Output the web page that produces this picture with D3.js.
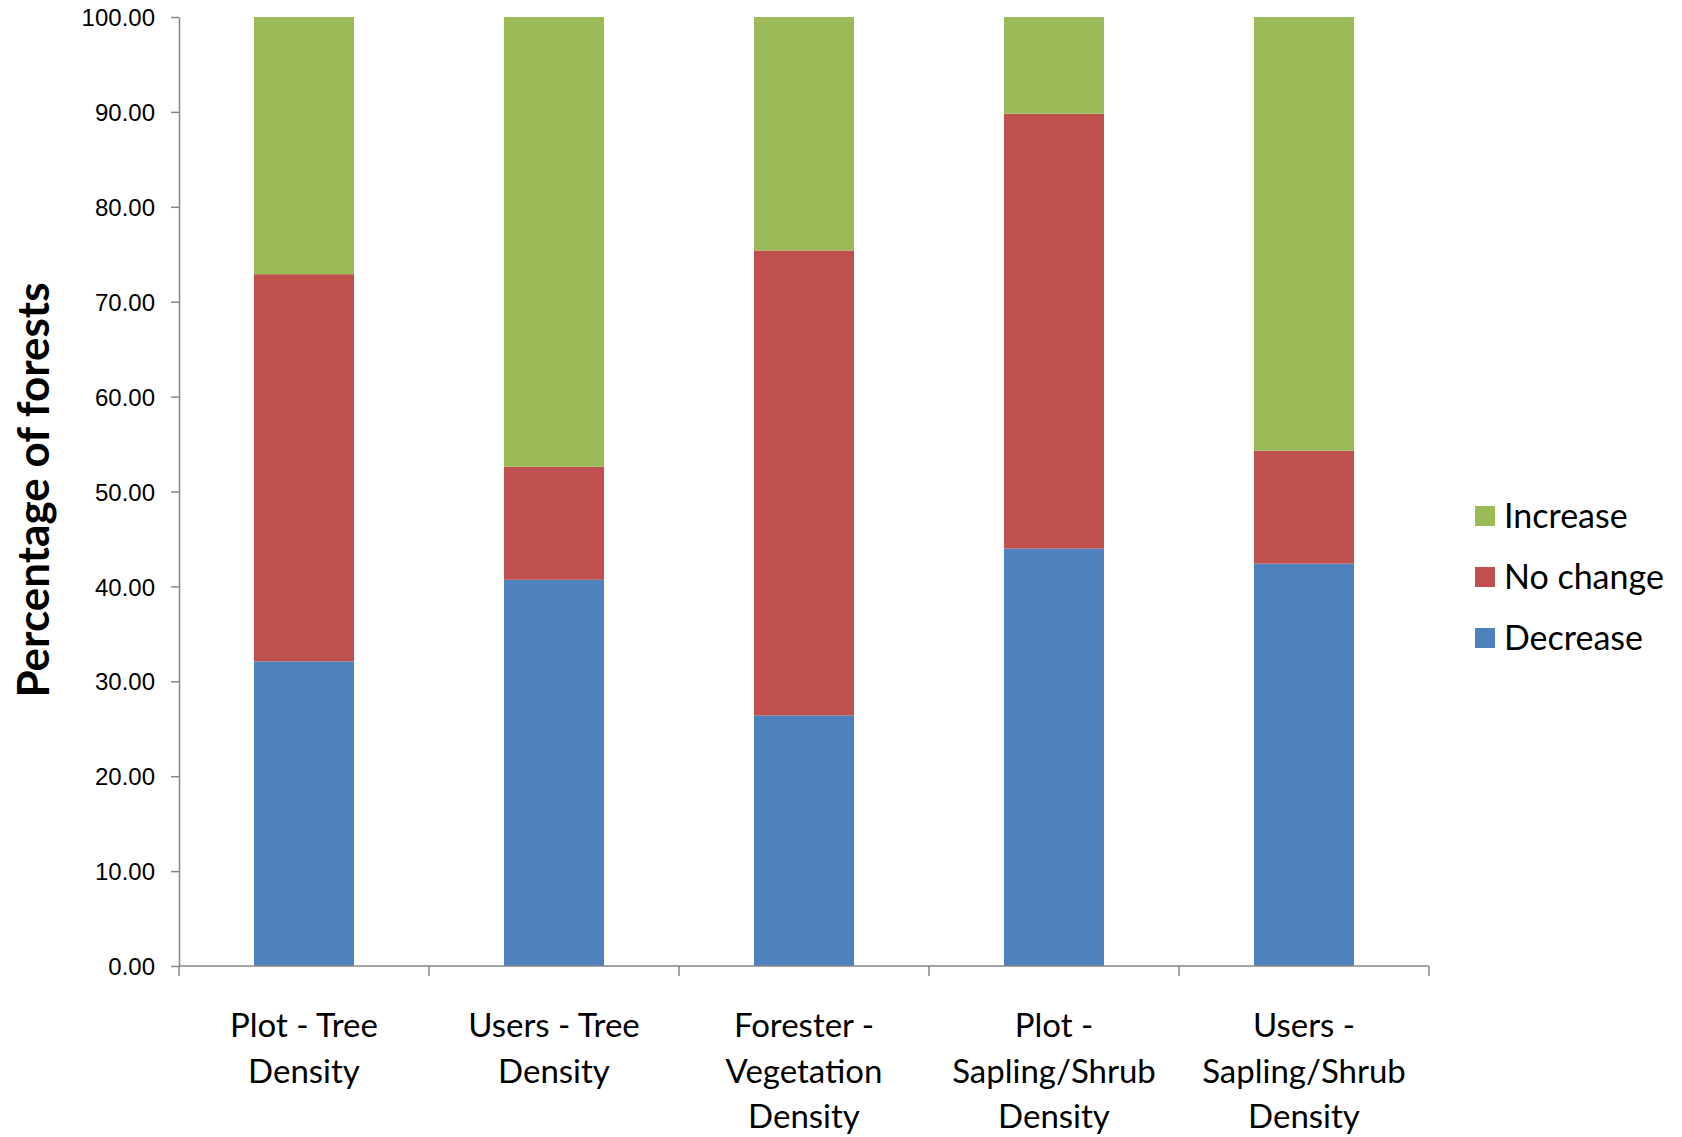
<!DOCTYPE html>
<html lang="en">
<head>
<meta charset="utf-8">
<title>Percentage of forests</title>
<script src="https://cdn.jsdelivr.net/npm/d3@7"></script>
<style>
  html, body { margin: 0; padding: 0; background: #fff; }
  svg { display: block; font-family: Lato, "Open Sans", sans-serif; }
</style>
</head>
<body>
<svg id="chart" width="1682" height="1137"></svg>
<script>
// data
var categories = [
  ["Plot - Tree", "Density"],
  ["Users - Tree", "Density"],
  ["Forester -", "Vegetation", "Density"],
  ["Plot -", "Sapling/Shrub", "Density"],
  ["Users -", "Sapling/Shrub", "Density"]
];
var decrease = [32.1, 40.7, 26.4, 44.0, 42.4];
var noChange = [40.8, 11.9, 49.0, 45.8, 11.9];
var increase = [27.1, 47.4, 24.6, 10.2, 45.7];
var seriesNames = ["Decrease", "No change", "Increase"];
var seriesColors = ["#4F81BD", "#C0504D", "#9BBB59"];
var yTicks = [0, 10, 20, 30, 40, 50, 60, 70, 80, 90, 100];

(function() {
  var svg = d3.select("#chart");
  var mLeft = 179, mRight = 1429, mTop = 17, mBottom = 966;

  var x = d3.scaleBand().domain(d3.range(categories.length)).range([mLeft, mRight]).paddingInner(0.6).paddingOuter(0.3);
  var y = d3.scaleLinear().domain([0, 100]).range([mBottom, mTop]);

  // stack the three series
  var rows = categories.map(function(c, i) {
    return { i: i, "Decrease": decrease[i], "No change": noChange[i], "Increase": increase[i] };
  });
  var stacked = d3.stack().keys(seriesNames)(rows);

  svg.append("g").selectAll("g")
    .data(stacked)
    .enter().append("g")
      .attr("fill", function(d, k) { return seriesColors[k]; })
    .selectAll("rect")
    .data(function(d) { return d; })
    .enter().append("rect")
      .attr("x", function(d) { return x(d.data.i); })
      .attr("width", x.bandwidth())
      .attr("y", function(d) { return y(d[1]); })
      .attr("height", function(d) { return y(d[0]) - y(d[1]); });

  // y axis
  var yAxis = d3.axisLeft(y).tickValues(yTicks).tickFormat(d3.format(".2f")).tickSizeInner(8).tickSizeOuter(0).tickPadding(16);
  var gy = svg.append("g").attr("transform", "translate(" + mLeft + ",0)").call(yAxis);
  gy.select(".domain").attr("stroke", "#868686").attr("stroke-width", 1.5);
  gy.selectAll(".tick line").attr("stroke", "#868686").attr("stroke-width", 1.5);
  gy.selectAll(".tick text").attr("fill", "#000").style("font-size", "24px").attr("dy", "0.36em");

  // x axis: line plus ticks at band boundaries
  var step = (mRight - mLeft) / categories.length;
  var bounds = d3.range(categories.length + 1).map(function(i) { return mLeft + i * step; });
  var gx = svg.append("g");
  gx.append("line").attr("x1", mLeft).attr("x2", mRight).attr("y1", mBottom).attr("y2", mBottom)
    .attr("stroke", "#868686").attr("stroke-width", 1.5);
  gx.selectAll("line.tk").data(bounds).enter().append("line").attr("class", "tk")
    .attr("x1", function(d) { return d; }).attr("x2", function(d) { return d; })
    .attr("y1", mBottom).attr("y2", mBottom + 10)
    .attr("stroke", "#868686").attr("stroke-width", 1.5);

  var labels = gx.selectAll("text.cat").data(categories).enter().append("text").attr("class", "cat")
    .attr("text-anchor", "middle")
    .attr("fill", "#000")
    .style("font-size", "33px");
  labels.each(function(lines, i) {
    var t = d3.select(this);
    lines.forEach(function(s, j) {
      t.append("tspan").attr("x", x(i) + x.bandwidth() / 2).attr("y", 1037 + j * 45.5).text(s);
    });
  });

  // y title
  svg.append("text")
    .attr("transform", "translate(49,490) rotate(-90)")
    .attr("text-anchor", "middle")
    .style("font-size", "44px").style("font-weight", "bold")
    .text("Percentage of forests");

  // legend, Increase on top
  var legendRows = [2, 1, 0];
  var lg = svg.append("g").selectAll("g").data(legendRows).enter().append("g")
    .attr("transform", function(d, j) { return "translate(1475," + (516 + j * 61) + ")"; });
  lg.append("rect").attr("x", 0).attr("y", -10).attr("width", 20).attr("height", 20)
    .attr("fill", function(d) { return seriesColors[d]; });
  lg.append("text").attr("x", 29).attr("y", 0).attr("dy", "0.36em")
    .style("font-size", "34px")
    .text(function(d) { return seriesNames[d]; });
})();
</script>
</body>
</html>
